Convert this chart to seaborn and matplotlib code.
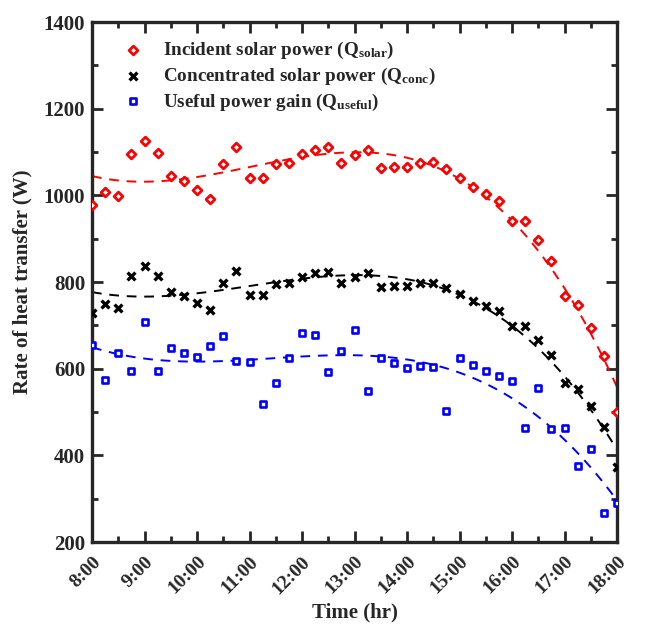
import numpy as np
import pandas as pd
import matplotlib
matplotlib.use("Agg")
import matplotlib.pyplot as plt
from matplotlib.ticker import MultipleLocator
import seaborn as sns

# Measurement times every 15 minutes (hours of day)
hours = [8 + 0.25 * i for i in range(41)]

q_solar = [978, 1008, 998, 1095, 1126, 1097, 1044, 1034, 1012, 991,
           1072, 1111, 1039, 1039, 1072, 1074, 1095, 1104, 1111, 1075,
           1092, 1104, 1062, 1066, 1066, 1075, 1076, 1061, 1041, 1019,
           1003, 988, 941, 941, 898, 849, 768, 746, 694, 629, 501]

q_conc = [728, 749, 741, 813, 838, 814, 776, 767, 752, 735,
          797, 825, 771, 771, 796, 797, 812, 820, 824, 797,
          811, 820, 788, 791, 791, 797, 797, 787, 773, 757,
          744, 734, 698, 698, 667, 631, 568, 552, 514, 466, 372]

q_useful = [654, 575, 636, 595, 708, 595, 647, 637, 627, 652,
            675, 617, 615, 518, 568, 624, 682, 678, 593, 641,
            689, 548, 625, 614, 602, 606, 605, 503, 624, 608,
            594, 582, 572, 464, 555, 461, 463, 376, 415, 267, 289]

tick_hours = list(range(8, 19))
tick_labels = [f"{h}:00" for h in tick_hours]

series_labels = [
    r"Incident solar power (Q$_{\mathrm{solar}}$)",
    r"Concentrated solar power (Q$_{\mathrm{conc}}$)",
    r"Useful power gain (Q$_{\mathrm{useful}}$)",
]

df = pd.DataFrame({"hour": hours, "solar": q_solar, "conc": q_conc, "useful": q_useful})

sns.set_theme(style="ticks")
plt.rcParams.update({
    "font.family": ["Liberation Serif", "DejaVu Serif"],
    "font.weight": "bold",
    "axes.labelweight": "bold",
    "mathtext.fontset": "custom",
    "mathtext.rm": "Liberation Serif:bold",
    "mathtext.it": "Liberation Serif:bold:italic",
    "mathtext.bf": "Liberation Serif:bold",
})

fig = plt.figure(figsize=(6.46, 6.30), dpi=100)
ax = fig.add_axes([92 / 646, 1 - 542 / 630, (617 - 92) / 646, (542 - 22) / 630])

styles = [
    ("solar", "#ff0000", "D", dict(s=20, facecolor="white", edgecolor="#ff0000", linewidth=2.0)),
    ("conc", "black", "x", dict(s=32, color="black", linewidth=2.4)),
    ("useful", "#0000ff", "s", dict(s=20, facecolor="white", edgecolor="#0000ff", linewidth=1.9)),
]

# Scatter of measurements with a cubic trend line for each quantity
for (col, color, marker, kw), lab in zip(styles, series_labels):
    sns.scatterplot(data=df, x="hour", y=col, marker=marker, ax=ax, label=lab,
                    zorder=3, **kw)
    sns.regplot(data=df, x="hour", y=col, order=3, ci=None, scatter=False, ax=ax,
                truncate=True,
                line_kws=dict(color=color, linestyle=(0, (5, 4)), linewidth=1.4, zorder=2))

ax.set_xlim(8, 18)
ax.set_ylim(200, 1400)
ax.set_xticks(tick_hours)
ax.set_xticklabels(tick_labels, rotation=45, ha="right", rotation_mode="anchor",
                   fontsize=14, fontweight="bold")
ax.xaxis.set_minor_locator(MultipleLocator(0.5))
ax.yaxis.set_major_locator(MultipleLocator(200))
ax.yaxis.set_minor_locator(MultipleLocator(100))
for t in ax.get_yticklabels():
    t.set_fontsize(15)
    t.set_fontweight("bold")

ax.tick_params(which="both", direction="in", top=True, right=True, width=2.0)
ax.tick_params(which="major", length=8, pad=5)
ax.tick_params(which="minor", length=4)
ax.tick_params(axis="x", which="major", pad=8)
for sp in ax.spines.values():
    sp.set_visible(True)
    sp.set_linewidth(2.4)

ax.set_xlabel("Time (hr)", fontsize=15, fontweight="bold", labelpad=4)
ax.set_ylabel("Rate of heat transfer (W)", fontsize=15, fontweight="bold", labelpad=8)

leg = ax.legend(loc="upper left", bbox_to_anchor=(0.03, 0.992), frameon=False,
                fontsize=13.8, handletextpad=1.0, labelspacing=0.25,
                borderaxespad=0.3, handlelength=1.2)
for t in leg.get_texts():
    t.set_fontweight("bold")

fig.savefig("out.png", dpi=100)
